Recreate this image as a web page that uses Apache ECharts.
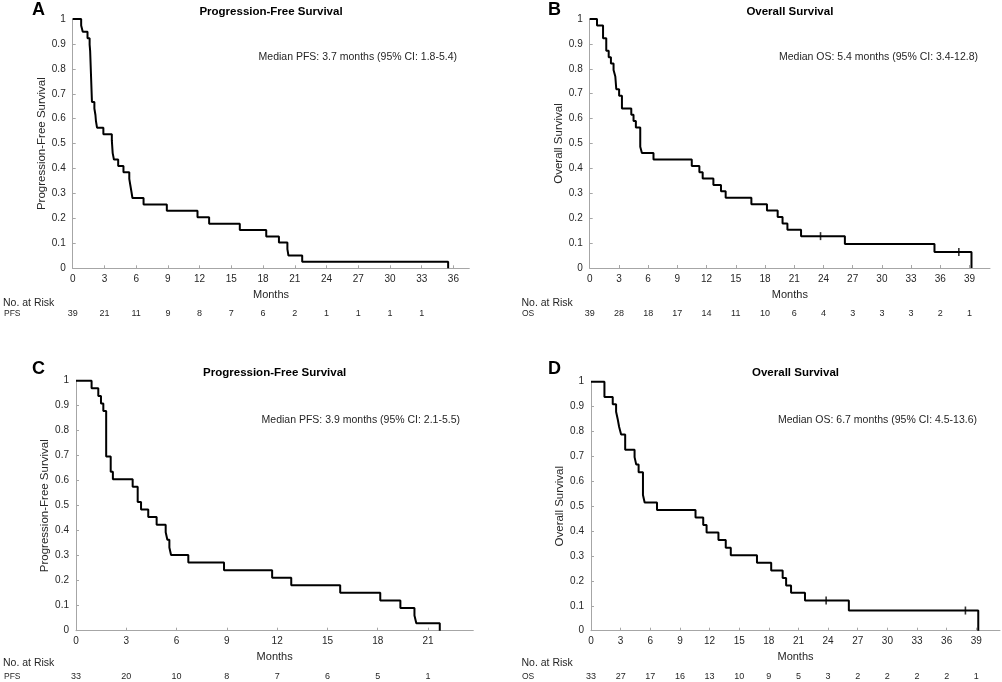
<!DOCTYPE html>
<html>
<head>
<meta charset="utf-8">
<script src="https://cdn.jsdelivr.net/npm/echarts@6/dist/echarts.min.js"></script>
<style>html,body{margin:0;padding:0;background:#fff}#c{width:1002px;height:682px}</style>
</head>
<body>
<div id="c"></div>
<script>
// ---- Data ----
const tA = [0, 0.8, 0.95, 1.4, 1.6, 1.65, 1.82, 2.05, 2.15, 2.2, 2.3, 2.9, 3.7, 3.78, 3.9, 4.3, 4.8, 5.35, 5.45, 5.55, 5.65, 6.7, 8.9, 11.8, 12.9, 15.8, 18.3, 19.5, 20.3, 20.4, 21.7, 35.5];
const sA = [1, 0.974, 0.949, 0.923, 0.897, 0.872, 0.667, 0.641, 0.615, 0.590, 0.564, 0.538, 0.513, 0.462, 0.436, 0.410, 0.385, 0.359, 0.333, 0.308, 0.282, 0.256, 0.231, 0.205, 0.179, 0.154, 0.128, 0.103, 0.077, 0.051, 0.026, 0];
const censorTA = [];
const censorSA = [];

const tB = [0, 0.75, 1.37, 1.7, 1.95, 2.18, 2.45, 2.63, 2.73, 3.02, 3.31, 4.27, 4.5, 4.74, 5.19, 5.36, 6.55, 10.48, 11.26, 11.6, 12.7, 13.48, 13.96, 16.6, 18.2, 19.3, 19.8, 20.3, 21.7, 26.2, 35.4, 39.2];
const sB = [1, 0.974, 0.923, 0.872, 0.846, 0.821, 0.795, 0.769, 0.718, 0.692, 0.641, 0.615, 0.590, 0.564, 0.487, 0.462, 0.436, 0.410, 0.385, 0.359, 0.333, 0.308, 0.282, 0.256, 0.231, 0.205, 0.179, 0.154, 0.128, 0.096, 0.064, 0];
const censorTB = [23.7, 37.9];
const censorSB = [0.128, 0.064];

const tC = [0, 0.93, 1.33, 1.49, 1.63, 1.8, 2.07, 2.2, 3.38, 3.68, 3.88, 4.31, 4.81, 5.35, 5.45, 5.57, 5.67, 6.7, 8.83, 11.7, 12.84, 15.76, 18.15, 19.35, 20.19, 20.3, 21.7];
const sC = [1, 0.970, 0.939, 0.909, 0.879, 0.697, 0.636, 0.606, 0.576, 0.515, 0.485, 0.455, 0.424, 0.394, 0.364, 0.333, 0.303, 0.273, 0.242, 0.212, 0.182, 0.152, 0.121, 0.091, 0.061, 0.030, 0];
const censorTC = [];
const censorSC = [];

const tD = [0, 1.36, 2.2, 2.54, 2.71, 2.85, 3.05, 3.46, 4.41, 4.58, 4.82, 5.26, 5.43, 6.68, 10.58, 11.36, 11.7, 12.9, 13.64, 14.15, 16.8, 18.24, 19.4, 19.75, 20.25, 21.66, 26.1, 39.2];
const sD = [1, 0.939, 0.909, 0.879, 0.848, 0.818, 0.788, 0.727, 0.697, 0.667, 0.636, 0.545, 0.515, 0.485, 0.455, 0.424, 0.394, 0.364, 0.333, 0.303, 0.273, 0.242, 0.212, 0.182, 0.152, 0.121, 0.081, 0];
const censorTD = [23.8, 37.9];
const censorSD = [0.121, 0.081];

const ticksA = [0, 3, 6, 9, 12, 15, 18, 21, 24, 27, 30, 33, 36];
const ticksB = [0, 3, 6, 9, 12, 15, 18, 21, 24, 27, 30, 33, 36, 39];
const ticksC = [0, 3, 6, 9, 12, 15, 18, 21];
const ticksD = [0, 3, 6, 9, 12, 15, 18, 21, 24, 27, 30, 33, 36, 39];

const riskA = [39, 21, 11, 9, 8, 7, 6, 2, 1, 1, 1, 1];
const riskB = [39, 28, 18, 17, 14, 11, 10, 6, 4, 3, 3, 3, 2, 1];
const riskC = [33, 20, 10, 8, 7, 6, 5, 1];
const riskD = [33, 27, 17, 16, 13, 10, 9, 5, 3, 2, 2, 2, 2, 1];

const titles = ['Progression-Free Survival', 'Overall Survival', 'Progression-Free Survival', 'Overall Survival'];
const yNames = ['Progression-Free Survival', 'Overall Survival', 'Progression-Free Survival', 'Overall Survival'];
const medians = ['Median PFS: 3.7 months (95% CI: 1.8-5.4)', 'Median OS: 5.4 months (95% CI: 3.4-12.8)', 'Median PFS: 3.9 months (95% CI: 2.1-5.5)', 'Median OS: 6.7 months (95% CI: 4.5-13.6)'];
const letters = ['A', 'B', 'C', 'D'];
const riskNames = ['PFS', 'OS', 'PFS', 'OS'];
const xMaxes = [37.5, 41.1, 23.7, 41.4];

// ---- Layout ----
const FONT = '"Liberation Sans", Arial, Helvetica, sans-serif';
const TXT = '#262626';
const AX = '#a6a6a6';
const grids = [
  {left: 72.7, top: 19, width: 396.6, height: 249.3},
  {left: 589.7, top: 19, width: 400.3, height: 249},
  {left: 76, top: 380.7, width: 397.3, height: 250},
  {left: 591, top: 381.7, width: 409, height: 249}
];

const panels = [
  {t: tA, s: sA, ct: censorTA, cs: censorSA, ticks: ticksA, risk: riskA},
  {t: tB, s: sB, ct: censorTB, cs: censorSB, ticks: ticksB, risk: riskB},
  {t: tC, s: sC, ct: censorTC, cs: censorSC, ticks: ticksC, risk: riskC},
  {t: tD, s: sD, ct: censorTD, cs: censorSD, ticks: ticksD, risk: riskD}
];

const option = {
  animation: false,
  backgroundColor: '#ffffff',
  grid: grids.map(g => Object.assign({containLabel: false}, g)),
  xAxis: [], yAxis: [], series: [], graphic: []
};

panels.forEach((p, i) => {
  const g = grids[i];
  option.xAxis.push({
    type: 'value', gridIndex: i, min: 0, max: xMaxes[i], interval: 3,
    axisLine: {lineStyle: {color: AX, width: 1}},
    axisTick: {inside: true, length: 3, customValues: p.ticks, lineStyle: {color: AX}},
    axisLabel: {customValues: p.ticks, margin: 6, fontSize: 10, color: TXT, fontFamily: FONT},
    splitLine: {show: false},
    name: 'Months', nameLocation: 'middle', nameGap: 21,
    nameTextStyle: {fontSize: 11, color: TXT, fontFamily: FONT}
  });
  option.xAxis.push({
    type: 'value', gridIndex: i, min: 0, max: xMaxes[i], interval: 3,
    position: 'bottom', offset: 36,
    axisLine: {show: false}, axisTick: {show: false}, splitLine: {show: false},
    axisLabel: {
      customValues: p.ticks, margin: 5, fontSize: 9, color: TXT, fontFamily: FONT,
      formatter: v => {
        const k = p.ticks.indexOf(Math.round(v));
        return (k >= 0 && k < p.risk.length) ? String(p.risk[k]) : '';
      }
    }
  });
  option.yAxis.push({
    type: 'value', gridIndex: i, min: 0, max: 1, interval: 0.1,
    axisLine: {show: true, lineStyle: {color: AX, width: 1}},
    axisTick: {show: true, inside: true, length: 3, lineStyle: {color: AX}},
    axisLabel: {margin: 7, fontSize: 10, color: TXT, fontFamily: FONT,
      formatter: v => String(Math.round(v * 10) / 10)},
    splitLine: {show: false},
    name: yNames[i], nameLocation: 'middle', nameGap: 19,
    nameTextStyle: {fontSize: 11.5, color: TXT, fontFamily: FONT}
  });
  option.series.push({
    type: 'line', xAxisIndex: 2 * i, yAxisIndex: i, step: 'end',
    showSymbol: false, symbol: 'none', clip: false,
    lineStyle: {color: '#000', width: 2},
    data: p.t.map((t, k) => [t, p.s[k]])
  });
  if (p.ct.length) {
    option.series.push({
      type: 'scatter', xAxisIndex: 2 * i, yAxisIndex: i,
      symbol: 'rect', symbolSize: [1.6, 8],
      itemStyle: {color: '#000'},
      data: p.ct.map((t, k) => [t, p.cs[k]])
    });
  }
  const cx = g.left + g.width / 2;
  const topRow = i < 2;
  option.graphic.push(
    {type: 'text', x: i % 2 === 0 ? 32 : 548, y: topRow ? 10.5 : 369,
      style: {text: letters[i], font: 'bold 18px ' + FONT, fill: '#000', align: 'left', verticalAlign: 'middle'}},
    {type: 'text', x: cx, y: topRow ? 12.3 : 373,
      style: {text: titles[i], font: 'bold 11.5px ' + FONT, fill: '#000', align: 'center', verticalAlign: 'middle'}},
    {type: 'text', x: [457, 978, 460, 977][i], y: topRow ? 57 : 420,
      style: {text: medians[i], font: '10.5px ' + FONT, fill: TXT, align: 'right', verticalAlign: 'middle'}},
    {type: 'text', x: i % 2 === 0 ? 3 : 521.5, y: topRow ? 303 : 663.3,
      style: {text: 'No. at Risk', font: '10.5px ' + FONT, fill: TXT, align: 'left', verticalAlign: 'middle'}},
    {type: 'text', x: i % 2 === 0 ? 4 : 522, y: topRow ? 314 : 677,
      style: {text: riskNames[i], font: '8.5px ' + FONT, fill: TXT, align: 'left', verticalAlign: 'middle'}}
  );
});

const chart = echarts.init(document.getElementById('c'), null, {renderer: 'canvas'});
chart.setOption(option);
</script>
</body>
</html>
